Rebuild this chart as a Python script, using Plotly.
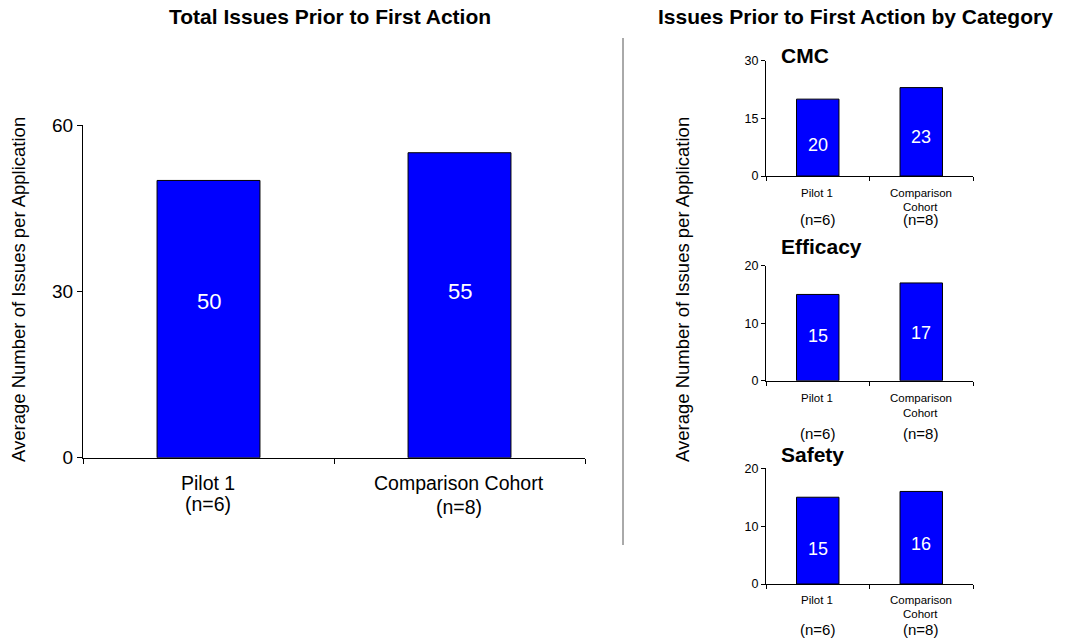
import plotly.graph_objects as go

# Data
groups = ["Pilot 1", "Comparison Cohort"]
group_n = ["(n=6)", "(n=8)"]
total_issues = [50, 55]

categories = ["CMC", "Efficacy", "Safety"]
cmc_issues = [20, 23]
efficacy_issues = [15, 17]
safety_issues = [15, 16]

W, H = 1065, 639
FONT = "Liberation Sans, Arial, sans-serif"
BLUE = "#0000FF"


def px_x(x):
    return x / W


def px_y(y):
    return 1 - y / H


def paper_text(x, y, text, size, **kw):
    opts = dict(xanchor="center", yanchor="middle")
    opts.update(kw)
    fig.add_annotation(x=px_x(x), y=px_y(y), xref="paper", yref="paper",
                       text=text, showarrow=False,
                       font=dict(family=FONT, size=size, color="#000000"), **opts)


fig = go.Figure()

# Main chart: total issues
fig.add_trace(go.Bar(
    x=groups, y=total_issues, xaxis="x", yaxis="y",
    marker=dict(color=BLUE, line=dict(color="#000000", width=1)),
    width=0.41, showlegend=False, hoverinfo="skip",
))
main_label_frac = [0.565, 0.545]
for g, v, f in zip(groups, total_issues, main_label_frac):
    fig.add_annotation(x=g, y=v * f, xref="x", yref="y", text=str(v),
                       showarrow=False, xanchor="center", yanchor="middle",
                       font=dict(family=FONT, size=22, color="white"))

# Small category charts
small = [
    ("CMC", cmc_issues, 176.0, 60.7, 30, [0, 15, 30], [0.40, 0.445], 55),
    ("Efficacy", efficacy_issues, 380.7, 265.7, 20, [0, 10, 20], [0.52, 0.49], 246),
    ("Safety", safety_issues, 584.0, 468.3, 20, [0, 10, 20], [0.40, 0.43], 455),
]

layout_axes = {}
for i, (name, vals, ybot, ytop, ymax, tv, lfrac, ty) in enumerate(small):
    k = i + 2
    xa, ya = f"x{k}", f"y{k}"
    fig.add_trace(go.Bar(
        x=groups, y=vals, xaxis=xa, yaxis=ya,
        marker=dict(color=BLUE, line=dict(color="#000000", width=1)),
        width=0.41, showlegend=False, hoverinfo="skip",
    ))
    for g, v, f in zip(groups, vals, lfrac):
        fig.add_annotation(x=g, y=v * f, xref=xa, yref=ya, text=str(v),
                           showarrow=False, xanchor="center", yanchor="middle",
                           font=dict(family=FONT, size=18, color="white"))
    layout_axes[f"xaxis{k}"] = dict(
        domain=[px_x(766), px_x(973)], anchor=ya, type="category",
        range=[-0.5, 1.5], showline=True, linecolor="#000000", linewidth=1,
        ticks="outside", tickson="boundaries", ticklen=4, tickcolor="#000000",
        showticklabels=False, showgrid=False, zeroline=False, fixedrange=True,
    )
    layout_axes[f"yaxis{k}"] = dict(
        domain=[px_y(ybot), px_y(ytop)], anchor=xa, range=[0, ymax],
        tickvals=tv, showline=True, linecolor="#000000", linewidth=1,
        ticks="outside", ticklen=4, tickcolor="#000000",
        tickfont=dict(family=FONT, size=12.5, color="#000000"),
        showgrid=False, zeroline=False, fixedrange=True,
    )
    # panel title
    paper_text(779, ty, f"<b>{name}</b>", 21, xanchor="left")

# Category labels under the small charts
small_label_rows = [
    (193, 207, 220),
    (398, 412.7, 433),
    (600, 614, 629),
]
xc = [817, 920.5]
for (r1, r2, r3) in small_label_rows:
    paper_text(xc[0], r1, groups[0], 11.5)
    paper_text(xc[1], r1, "Comparison", 11.5)
    paper_text(xc[1], r2, "Cohort", 11.5)
    for xx, n in zip(xc, group_n):
        paper_text(xx, r3, n, 15)

# Main chart category labels
paper_text(208, 483, groups[0], 19.5)
paper_text(208, 504, group_n[0], 19.5)
paper_text(458.5, 483, groups[1], 19.5)
paper_text(458.5, 507, group_n[1], 19.5)

# Titles
paper_text(330, 16.5, "<b>Total Issues Prior to First Action</b>", 21)
paper_text(855.5, 16.5, "<b>Issues Prior to First Action by Category</b>", 21)

# Y-axis titles
paper_text(18, 290, "Average Number of Issues per Application", 18.5, textangle=-90)
paper_text(682, 290, "Average Number of Issues per Application", 18.5, textangle=-90)

# Divider between the two panels
fig.add_shape(type="line", xref="paper", yref="paper",
              x0=px_x(623), x1=px_x(623), y0=px_y(38), y1=px_y(545),
              line=dict(color="#555555", width=1))

fig.update_layout(
    width=W, height=H,
    margin=dict(l=0, r=0, t=0, b=0, autoexpand=False),
    paper_bgcolor="white", plot_bgcolor="white",
    xaxis=dict(
        domain=[px_x(83), px_x(585)], anchor="y", type="category",
        range=[-0.5, 1.5], showline=True, linecolor="#000000", linewidth=1,
        ticks="outside", tickson="boundaries", ticklen=5, tickcolor="#000000",
        showticklabels=False, showgrid=False, zeroline=False, fixedrange=True,
    ),
    yaxis=dict(
        domain=[px_y(457.7), px_y(125)], anchor="x", range=[0, 60],
        tickvals=[0, 30, 60], showline=True, linecolor="#000000", linewidth=1,
        ticks="outside", ticklen=5, tickcolor="#000000",
        tickfont=dict(family=FONT, size=19, color="#000000"),
        showgrid=False, zeroline=False, fixedrange=True,
    ),
    **layout_axes,
)

fig.write_html("out.html")
